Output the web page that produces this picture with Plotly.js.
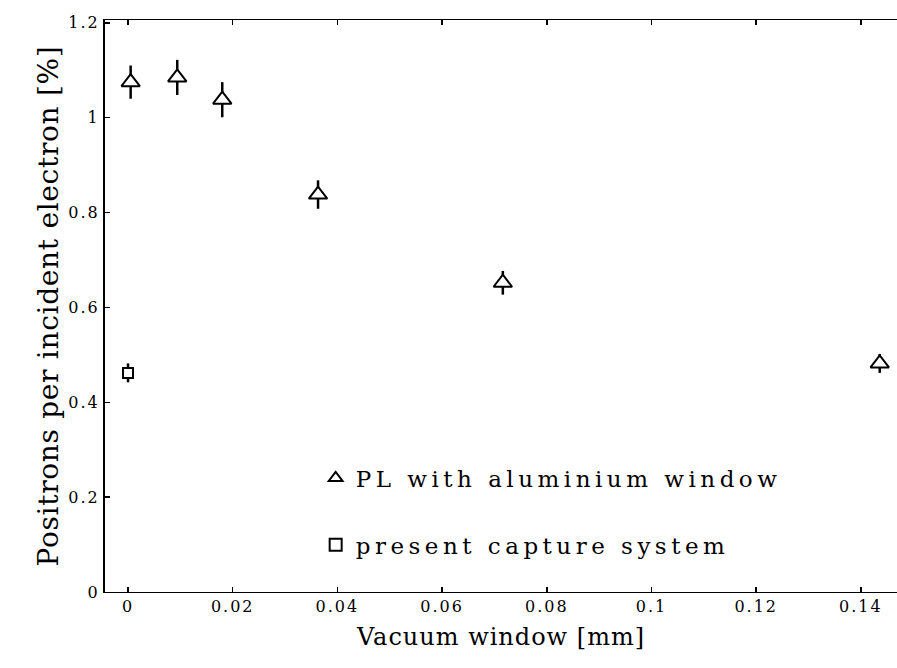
<!DOCTYPE html>
<html>
<head>
<meta charset="utf-8">
<script src="https://cdn.plot.ly/plotly-3.0.1.min.js"></script>
<style>
html,body{margin:0;padding:0;background:#fff;}
#chart{width:897px;height:668px;}
#chart .xtick text, #chart .ytick text{letter-spacing:2px;}
#chart .legendtext{letter-spacing:4.5px;}
#chart .legend .scrollbox{clip-path:none !important;}
#chart .g-xtitle text{letter-spacing:1px;}
#chart .g-ytitle text{letter-spacing:0.7px;}
</style>
</head>
<body>
<div id="chart"></div>
<script>
// Data
const plX = [0.0005, 0.0094, 0.018, 0.0363, 0.0716, 0.1436];
const plY = [1.075, 1.085, 1.038, 0.838, 0.652, 0.482];
const plErr = [0.035, 0.037, 0.037, 0.03, 0.025, 0.02];
const capX = [0.0];
const capY = [0.462];
const capErr = [0.02];
const xTicks = [0, 0.02, 0.04, 0.06, 0.08, 0.1, 0.12, 0.14];
const xTickText = ['0', '0.02', '0.04', '0.06', '0.08', '0.1', '0.12', '0.14'];
const yTicks = [0, 0.2, 0.4, 0.6, 0.8, 1, 1.2];
const yTickText = ['0', '0.2', '0.4', '0.6', '0.8', '1', '1.2'];
const seriesNames = ['PL with aluminium window', 'present capture system'];

const serif = 'DejaVu Serif, Liberation Serif, serif';

const traces = [
  {
    x: plX, y: plY, type: 'scatter', mode: 'markers', name: seriesNames[0],
    legendgroup: 'a',
    marker: {symbol: 'triangle-up', size: 16, color: '#fff', line: {width: 2, color: '#000'}},
    error_y: {type: 'data', array: plErr, visible: true, color: '#000', thickness: 2.5, width: 0}
  },
  {
    x: capX, y: capY, type: 'scatter', mode: 'markers', name: seriesNames[1],
    legendgroup: 'b',
    marker: {symbol: 'square', size: 10, color: '#fff', line: {width: 2, color: '#000'}},
    error_y: {type: 'data', array: capErr, visible: true, color: '#000', thickness: 2.5, width: 0}
  }
];

const layout = {
  width: 897, height: 668,
  margin: {l: 105, r: 0, t: 20, b: 76},
  paper_bgcolor: '#fff', plot_bgcolor: '#fff',
  font: {family: serif, color: '#000'},
  showlegend: true,
  legend: {
    x: 0.266, y: 0.237, xanchor: 'left', yanchor: 'top',
    font: {family: serif, size: 23, color: '#000'},
    bgcolor: 'rgba(0,0,0,0)', borderwidth: 0,
    tracegroupgap: 34, itemsizing: 'constant'
  },
  xaxis: {
    range: [-0.0044, 0.1469],
    tickvals: xTicks, ticktext: xTickText,
    ticks: 'inside', ticklen: 5, tickwidth: 1.5, tickcolor: '#000',
    showline: true, linecolor: '#000', linewidth: 1.2, mirror: 'ticks',
    showgrid: false, zeroline: false,
    tickfont: {family: serif, size: 16, color: '#000'},
    title: {text: 'Vacuum window [mm]', font: {family: serif, size: 24, color: '#000'}, standoff: 12}
  },
  yaxis: {
    range: [0, 1.206],
    tickvals: yTicks, ticktext: yTickText,
    ticks: 'inside', ticklen: 5, tickwidth: 1.5, tickcolor: '#000',
    showline: true, linecolor: '#000', linewidth: 2, mirror: false,
    showgrid: false, zeroline: false,
    tickfont: {family: serif, size: 16, color: '#000'},
    title: {text: 'Positrons per incident electron [%]', font: {family: serif, size: 28, color: '#000'}, standoff: 8}
  }
};

Plotly.newPlot('chart', traces, layout, {displayModeBar: false, staticPlot: true});
</script>
</body>
</html>
